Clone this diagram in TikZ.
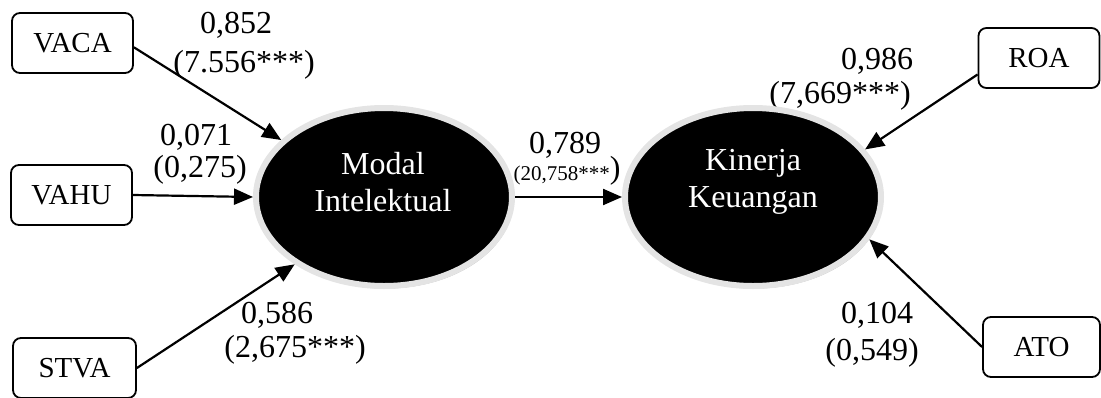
\documentclass[tikz,border=0pt]{standalone}
\usepackage{fontspec}
\setmainfont{Liberation Serif}
\usetikzlibrary{arrows.meta,shadows,shapes.geometric}
\definecolor{ringgray}{HTML}{E4E4E4}
\definecolor{shadegray}{HTML}{A8A8A8}
\begin{document}
\begin{tikzpicture}[x=1pt,y=-1pt,
  obs/.style={draw, rounded corners=8pt, line width=1.8pt, minimum width=121pt,
    minimum height=60pt, inner sep=0pt, font=\fontsize{29}{34}\selectfont},
  latent/.style={ellipse, fill=black, draw=ringgray, line width=6pt,
    minimum width=256pt, minimum height=178pt, inner sep=0pt,
    drop shadow={shadow xshift=1.5pt, shadow yshift=-2.5pt, fill=shadegray, opacity=1}},
  inlabel/.style={text=white, align=center, font=\fontsize{32}{37}\selectfont, inner sep=0pt},
  coef/.style={font=\fontsize{32}{36}\selectfont, inner sep=0pt, anchor=base},
  link/.style={line width=2.2pt, -{Triangle[length=19pt,width=16pt]}}]

\useasboundingbox (0,0) rectangle (1101,397);

% indicator boxes
\node[obs] (vaca) at (72.5,43) {VACA};
\node[obs] (vahu) at (71.5,195) {VAHU};
\node[obs, minimum width=123pt] (stva) at (74.5,368) {STVA};
\node[obs] (roa) at (1039,58) {ROA};
\node[obs, minimum width=117pt] (ato) at (1041.5,347) {ATO};

% path coefficients (t-values)
\node[coef] (c1a) at (236,33) {0,852};
\node[coef] (c1b) at (244,72) {(7.556***)};
\node[coef] (c2a) at (196,145) {0,071};
\node[coef] (c2b) at (200,177) {(0,275)};
\node[coef] (c3a) at (277,323) {0,586};
\node[coef] (c3b) at (295,357) {(2,675***)};
\node[coef] (c4a) at (565,153) {0,789};
\node[coef] (c4b) at (567,180) {{\fontsize{21}{24}\selectfont(20,758***}\raisebox{2pt}{)}};
\node[coef] (c5a) at (877,69) {0,986};
\node[coef] (c5b) at (840,103) {(7,669***)};
\node[coef] (c6a) at (877,323) {0,104};
\node[coef] (c6b) at (872,360) {(0,549)};

% latent constructs
\node[latent] (mi) at (384,197) {};
\node[latent] (kk) at (753,197) {};
\node[inlabel] (mitext) at (383,182) {Modal\\Intelektual};
\node[inlabel] (kktext) at (753,182) {Kinerja\\Keuangan};

% structural and measurement paths
\draw[link] (vaca.-4) -- (mi.151);
\draw[link] (vahu.east) -- (mi.west);
\draw[link] (stva.east) -- (mi.217);
\draw[link] (mi.east) -- (kk.west);
\draw[link] (roa.195) -- (kk.23);
\draw[link] (ato.west) -- (kk.340);
\end{tikzpicture}
\end{document}
